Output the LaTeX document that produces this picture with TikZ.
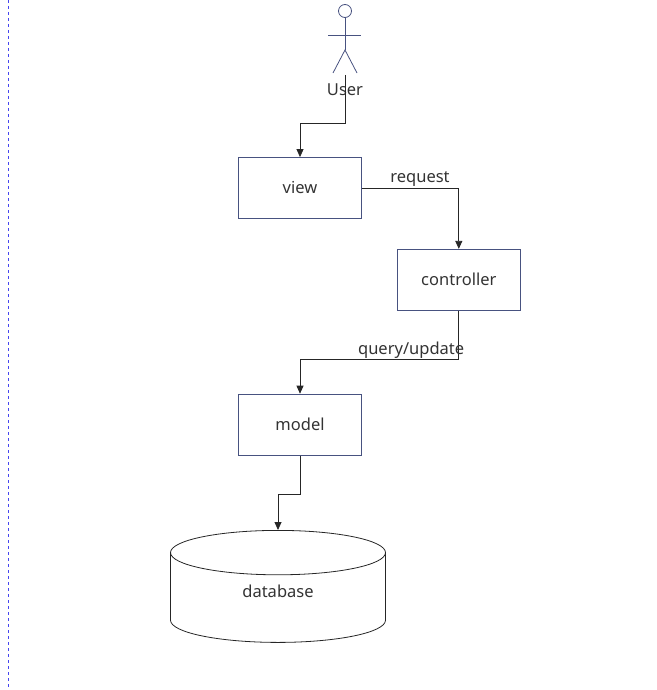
\documentclass[tikz,border=0pt]{standalone}
\usepackage{fontspec}
\setmainfont{Noto Sans}
\usetikzlibrary{calc, arrows, arrows.meta, positioning, shapes.geometric}
\definecolor{boxblue}{RGB}{72,82,128}
\definecolor{txtgray}{RGB}{51,51,51}
\definecolor{dashblue}{RGB}{70,70,240}
\tikzstyle{block} = [draw=boxblue, rectangle, line width=0.8pt,
minimum height=61pt, minimum width=123pt, text=txtgray, font=\fontsize{16.5}{19}\selectfont]
\tikzstyle{store} = [draw=black!85, cylinder, shape border rotate=90, aspect=0.57, line width=0.8pt,
minimum height=112pt, minimum width=215pt, text depth=18pt, text=txtgray, font=\fontsize{16.5}{19}\selectfont]
\tikzstyle{actor} = [draw=boxblue, line width=0.8pt]
\tikzstyle{wire} = [draw=black!85, line width=0.8pt]
\tikzstyle{lbl} = [text=txtgray, font=\fontsize{16.5}{19}\selectfont, inner sep=1pt]

\begin{document}
\begin{tikzpicture}[x=1pt,y=-1pt,>={Triangle[width=7pt,length=8pt]}]
      \useasboundingbox (0,0) rectangle (656,690);
      \draw[dashblue, line width=0.8pt, dash pattern=on 3pt off 3pt] (8,0) -- (8,690);
      % user figure
      \node [actor, circle, minimum size=13pt, inner sep=0pt] (head) at (345,11) {};
      \coordinate (hip) at (345,50);
      \coordinate (foot) at (345,75);
      \draw [actor] (head.south) -- (hip);
      \draw [actor] (328,35) -- (361,35);
      \draw [actor] (333,73) -- (hip) -- (357,73);
      \node [lbl] (user) at (345,90) {User};
      % blocks
      \node [block] (view) at (300,188) {view};
      \node [block] (ctrl) [below right=30pt and 35pt of view] {controller};
      \node [block] (model) [below left=83pt and 35pt of ctrl] {model};
      \node [store, anchor=north] (db) at (278,530) {database};
      \path[wire,->] (foot) -- ++(0,48) -| (view.north);
      \path[wire,->] (view.east) -| node [lbl, pos=0.3, above] {request} (ctrl.north);
      \path[wire,->] (ctrl.south) -- ++(0,49) -| node [lbl, pos=0.15, above] {query/update} (model.north);
      \path[wire,->] (model.south) -- ++(0,39) -| (db.north);
  \end{tikzpicture}
\end{document}
